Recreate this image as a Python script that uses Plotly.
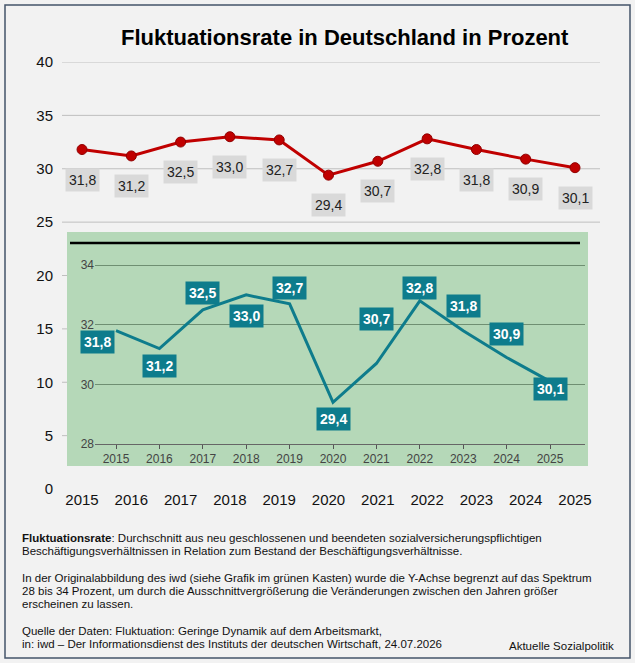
import plotly.graph_objects as go

years = [2015, 2016, 2017, 2018, 2019, 2020, 2021, 2022, 2023, 2024, 2025]
rates = [31.8, 31.2, 32.5, 33.0, 32.7, 29.4, 30.7, 32.8, 31.8, 30.9, 30.1]
labels = ["31,8", "31,2", "32,5", "33,0", "32,7", "29,4", "30,7", "32,8", "31,8", "30,9", "30,1"]
inset_shift = [(-19, -11), (0, -17), (0, 17), (0, -21), (0, 16), (0, -17), (0, 44), (0, 13), (0, 25), (0, 24), (0, -8)]
main_grid = [25, 30, 35, 40]

W, H = 635, 663
L, R, T, B = 62, 35, 62, 174
pw, ph = W - L - R, H - T - B
def px(x): return (x - L) / pw
def py(y): return (T + ph - y) / ph

fig = go.Figure()
fig.add_trace(go.Scatter(x=years, y=rates, mode="lines+markers",
                         line=dict(color="#c00000", width=3),
                         marker=dict(size=10, color="#c00000", line=dict(color="#900000", width=1)),
                         hoverinfo="skip", showlegend=False))
fig.add_trace(go.Scatter(x=years, y=rates, mode="lines", xaxis="x2", yaxis="y2",
                         line=dict(color="#0e7c8c", width=3), hoverinfo="skip", showlegend=False))

shapes = [dict(type="line", xref="paper", yref="y", x0=0, x1=1, y0=g, y1=g,
               line=dict(color="#bfbfbf", width=1), layer="below") for g in main_grid]
shapes += [
    dict(type="line", xref="paper", yref="y", x0=0, x1=px(67), y0=g, y1=g,
         line=dict(color="#bfbfbf", width=1), layer="below") for g in [5, 10, 15, 20]
]
shapes += [
    dict(type="rect", xref="paper", yref="paper", x0=px(67), x1=px(588), y0=py(466), y1=py(232),
         fillcolor="#b5d8b8", line=dict(width=0), layer="below"),
    dict(type="line", xref="paper", yref="paper", x0=px(70), x1=px(580), y0=py(243), y1=py(243),
         line=dict(color="black", width=2.5)),
    dict(type="rect", xref="paper", yref="paper", x0=px(5), x1=px(630), y0=py(658), y1=py(5),
         line=dict(color="#44546a", width=1.5)),
]

ann = []
for x, v, t in zip(years, rates, labels):
    ann.append(dict(x=x, y=v, xref="x", yref="y", text=t, showarrow=False, yshift=-30,
                    bgcolor="#d9d9d9", borderpad=3, font=dict(size=14, color="#222")))
for x, v, t, (dx, dy) in zip(years, rates, labels, inset_shift):
    ann.append(dict(x=x, y=v, xref="x2", yref="y2", text="<b>" + t + "</b>", showarrow=False,
                    xshift=dx, yshift=dy, bgcolor="#0e7c8c", borderpad=3,
                    font=dict(size=14, color="white")))
ann.append(dict(x=px(345), y=py(38), xref="paper", yref="paper", showarrow=False, yanchor="middle",
                text="<b>Fluktuationsrate in Deutschland in Prozent</b>", font=dict(size=22, color="black")))

foot = [
    (538, "<b>Fluktuationsrate</b>: Durchschnitt aus neu geschlossenen und beendeten sozialversicherungspflichtigen"),
    (551, "Beschäftigungsverhältnissen in Relation zum Bestand der Beschäftigungsverhältnisse."),
    (578, "In der Originalabbildung des iwd (siehe Grafik im grünen Kasten) wurde die Y-Achse begrenzt auf das Spektrum"),
    (591, "28 bis 34 Prozent, um durch die Ausschnittvergrößerung die Veränderungen zwischen den Jahren größer"),
    (604, "erscheinen zu lassen."),
    (631, "Quelle der Daten: Fluktuation: Geringe Dynamik auf dem Arbeitsmarkt,"),
    (644, "in: iwd – Der Informationsdienst des Instituts der deutschen Wirtschaft, 24.07.2026"),
]
for y, t in foot:
    ann.append(dict(x=px(20), y=py(y), xref="paper", yref="paper", xanchor="left", yanchor="middle",
                    showarrow=False, text=t, font=dict(size=11.5, color="#111")))
ann.append(dict(x=px(616), y=py(646), xref="paper", yref="paper", xanchor="right", yanchor="middle",
                showarrow=False, text="Aktuelle Sozialpolitik", font=dict(size=11.5, color="#111")))

fig.update_layout(
    width=W, height=H, margin=dict(l=L, r=R, t=T, b=B),
    paper_bgcolor="#f2f2f2", plot_bgcolor="rgba(0,0,0,0)",
    font=dict(family="Liberation Sans, Arial, sans-serif"),
    xaxis=dict(range=[2014.594, 2025.507], tickvals=years, showgrid=False, zeroline=False,
               tickfont=dict(size=15, color="#111"), ticks=""),
    yaxis=dict(range=[0, 40], dtick=5, showgrid=False, zeroline=False,
               tickfont=dict(size=15, color="#111"), ticklabelstandoff=8),
    xaxis2=dict(domain=[px(95), px(585)], range=[2014.516, 2025.806], anchor="y2", tickvals=years,
                showgrid=False, zeroline=False, ticks="outside", ticklen=4, tickcolor="#555",
                showline=True, linecolor="#666", tickfont=dict(size=12, color="#444")),
    yaxis2=dict(domain=[py(444), py(243)], range=[28, 34.74], anchor="x2", tickvals=[28, 30, 32, 34],
                showgrid=True, gridcolor="#6f8f72", zeroline=False, tickfont=dict(size=12, color="#444")),
    shapes=shapes, annotations=ann,
)
fig.write_html("out.html", config={"displayModeBar": False})
with open("out.html", encoding="utf-8") as f:
    html = f.read()
html = html.replace("<head>", "<head><style>html,body{margin:0;padding:0;overflow:hidden;}</style>", 1)
with open("out.html", "w", encoding="utf-8") as f:
    f.write(html)
